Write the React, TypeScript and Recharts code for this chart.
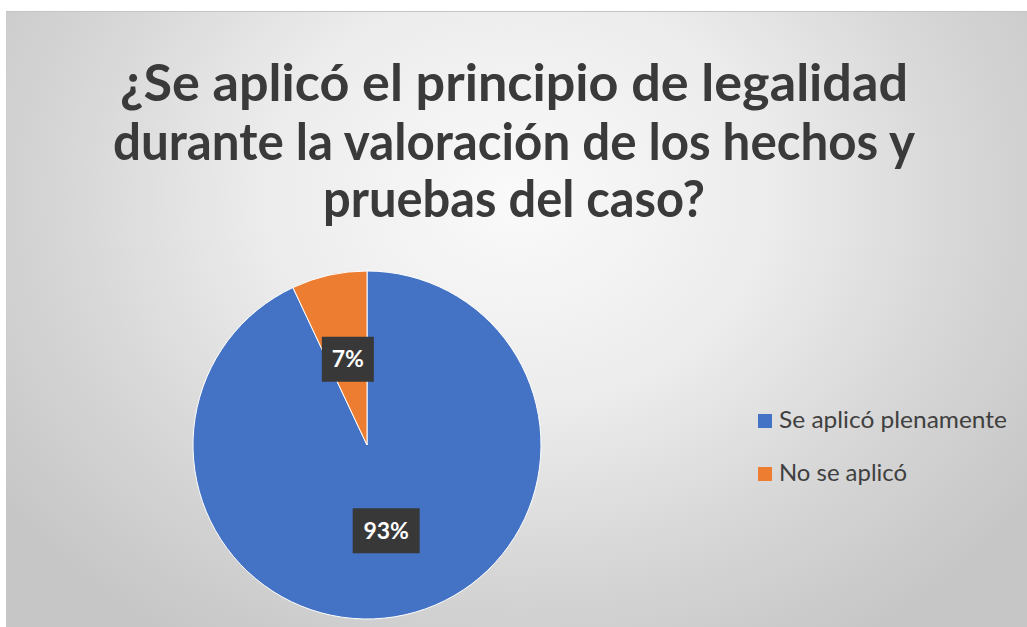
import React from "react";
import { PieChart, Pie, Cell, Legend } from "recharts";

const titleLines = [
  "¿Se aplicó el principio de legalidad",
  "durante la valoración de los hechos y",
  "pruebas del caso?",
];
const categories = ["Se aplicó plenamente", "No se aplicó"];
const values = [93, 7];
const colors = ["#4472C4", "#ED7D31"];

const data = categories.map((name, i) => ({ name, value: values[i] }));

const RADIAN = Math.PI / 180;

const titleLayout = [
  { y: 101, len: 788 },
  { y: 160, len: 802 },
  { y: 217, len: 382 },
];

const renderLabel = (props: any) => {
  const { cx, cy, midAngle, outerRadius, percent } = props;
  const r = outerRadius * 0.505;
  const x = cx + r * Math.cos(-midAngle * RADIAN);
  const y = cy + r * Math.sin(-midAngle * RADIAN);
  const txt = `${Math.round(percent * 100)}%`;
  const w = txt.length === 2 ? 52 : 67;
  const h = 45;
  return (
    <g>
      <rect x={x - w / 2} y={y - h / 2} width={w} height={h} fill="#383838" />
      <text
        x={x}
        y={y + 8}
        textAnchor="middle"
        fill="#ffffff"
        fontFamily="Lato, 'Open Sans', sans-serif"
        fontWeight={700}
        fontSize={23}
      >
        {txt}
      </text>
    </g>
  );
};

const legendLens = [228, 128];

const renderLegend = (props: any) => {
  const payload = [...(props.payload || [])].sort(
    (a: any, b: any) => categories.indexOf(a.value) - categories.indexOf(b.value)
  );
  return (
    <svg width={270} height={90} style={{ display: "block" }}>
      {payload.map((entry: any, i: number) => {
        const idx = categories.indexOf(entry.value);
        return (
          <g key={entry.value}>
            <rect x={8} y={14 + i * 53} width={14} height={14} fill={colors[idx]} />
            <text
              x={29}
              y={28 + i * 53}
              fill="#404040"
              fontFamily="Lato, 'Open Sans', sans-serif"
              fontSize={23}
              textLength={legendLens[idx]}
              lengthAdjust="spacingAndGlyphs"
            >
              {entry.value}
            </text>
          </g>
        );
      })}
    </svg>
  );
};

export default function App() {
  return (
    <div
      style={{
        position: "absolute",
        left: 0,
        top: 0,
        width: 1027,
        height: 627,
        background: "#ffffff",
        overflow: "hidden",
      }}
    >
      <div
        style={{
          position: "absolute",
          left: 6,
          top: 11,
          width: 1021,
          height: 616,
          borderTop: "1px solid #c4c4c4",
          background:
            "radial-gradient(ellipse 62% 85% at 50% 30%, #fafafa 0%, #ececec 40%, #d6d6d6 72%, #c6c6c6 100%)",
        }}
      />
      <svg
        width={1027}
        height={627}
        style={{ position: "absolute", left: 0, top: 0 }}
      >
        {titleLines.map((line, i) => (
          <text
            key={i}
            x={514}
            y={titleLayout[i].y}
            textAnchor="middle"
            fill="#3a3a3a"
            fontFamily="Lato, 'Open Sans', sans-serif"
            fontWeight={700}
            fontSize={51}
            textLength={titleLayout[i].len}
            lengthAdjust="spacingAndGlyphs"
          >
            {line}
          </text>
        ))}
      </svg>
      <div style={{ position: "absolute", left: 0, top: 0 }}>
        <PieChart
          width={1027}
          height={627}
          margin={{ top: 0, right: 0, bottom: 0, left: 0 }}
        >
          <Pie
            data={data}
            dataKey="value"
            nameKey="name"
            cx={367}
            cy={445}
            outerRadius={174}
            startAngle={90}
            endAngle={-270}
            stroke="#ffffff"
            strokeWidth={1}
            label={renderLabel}
            labelLine={false}
            isAnimationActive={false}
          >
            {data.map((d, i) => (
              <Cell key={d.name} fill={colors[i]} />
            ))}
          </Pie>
          <Legend
            layout="vertical"
            align="right"
            verticalAlign="middle"
            content={renderLegend}
            wrapperStyle={{ position: "absolute", left: 750, top: 400, width: 270, height: 90 }}
          />
        </PieChart>
      </div>
    </div>
  );
}
